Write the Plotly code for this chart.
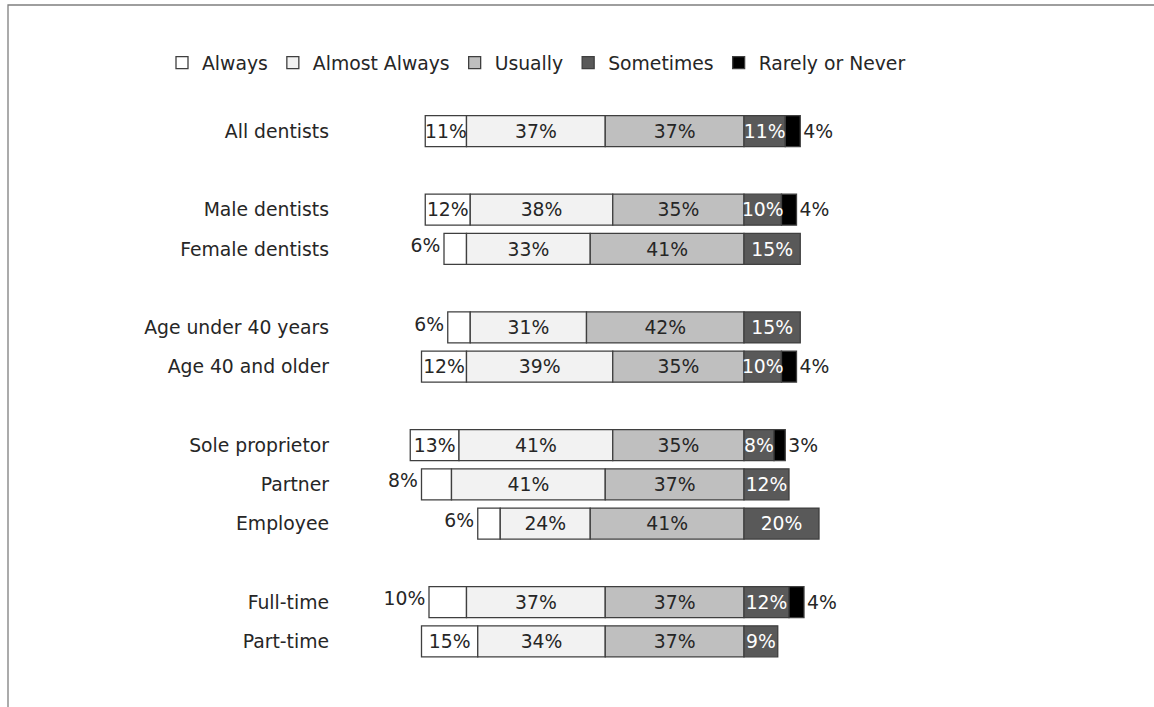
import plotly.graph_objects as go

# ---------------- data ----------------
categories = ["All dentists", "Male dentists", "Female dentists",
              "Age under 40 years", "Age 40 and older",
              "Sole proprietor", "Partner", "Employee",
              "Full-time", "Part-time"]
group_sizes = [1, 2, 2, 3, 2]
series_names = ["Always", "Almost Always", "Usually", "Sometimes", "Rarely or Never"]
always    = [11, 12, 6, 6, 12, 13, 8, 6, 10, 15]
almost    = [37, 38, 33, 31, 39, 41, 41, 24, 37, 34]
usually   = [37, 35, 41, 42, 35, 35, 37, 41, 37, 37]
sometimes = [11, 10, 15, 15, 10, 8, 12, 20, 12, 9]
rarely    = [4, 4, 0, 0, 4, 3, 0, 0, 4, 0]

# ---------------- layout helpers ----------------
FIG_W, FIG_H = 1154, 707
PLOT_L, PLOT_T = 340, 95
PLOT_W, PLOT_H = FIG_W - PLOT_L, FIG_H - PLOT_T
FONT = "DejaVu Sans"
FS = 18.8
DARK = "#262626"
colors = ["#ffffff", "#f2f2f2", "#bfbfbf", "#595959", "#000000"]
outline = "#3f3f3f"
TXT_DY = 0.05  # small downward nudge of value labels (in row units)

def pxx(px):
    return (px - PLOT_L) / PLOT_W

def pxy(py):
    return (FIG_H - py) / PLOT_H

# row positions: groups separated by one empty slot
ypos = []
p = 0
for g in group_sizes:
    for _ in range(g):
        ypos.append(p)
        p += 1
    p += 1

n = len(categories)
base_always = [-(always[i] + almost[i] + usually[i]) for i in range(n)]
base_almost = [-(almost[i] + usually[i]) for i in range(n)]
base_usually = [-usually[i] for i in range(n)]
base_some = [0] * n
base_rare = [sometimes[i] for i in range(n)]

vals = [always, almost, usually, sometimes, rarely]
bases = [base_always, base_almost, base_usually, base_some, base_rare]

fig = go.Figure()
for k in range(5):
    xv = [v if v > 0 else None for v in vals[k]]
    fig.add_trace(go.Bar(
        name=series_names[k], orientation="h",
        y=ypos, x=xv, base=bases[k], width=0.79,
        marker=dict(color=colors[k], line=dict(color=outline, width=1.3)),
        hoverinfo="skip",
    ))

# labels
def add_text(xs, ys, texts, pos, color):
    fig.add_trace(go.Scatter(
        x=xs, y=ys, text=texts, mode="text", textposition=pos,
        textfont=dict(family=FONT, size=FS, color=color),
        showlegend=False, hoverinfo="skip", cliponaxis=False))

# Always: inside if wide enough, else outside left
ix, iy, it, ox, oy, ot = [], [], [], [], [], []
for i in range(n):
    if always[i] >= 11:
        ix.append(base_always[i] + always[i] / 2); iy.append(ypos[i] + TXT_DY); it.append(f"{always[i]}%")
    else:
        ox.append(base_always[i] - 1.0); oy.append(ypos[i] - 0.04); ot.append(f"{always[i]}%")
add_text(ix, iy, it, "middle center", DARK)
add_text(ox, oy, ot, "middle left", DARK)

for k, col in [(1, DARK), (2, DARK), (3, "#ffffff")]:
    add_text([bases[k][i] + vals[k][i] / 2 for i in range(n)], [y + TXT_DY for y in ypos],
             [f"{vals[k][i]}%" for i in range(n)], "middle center", col)

rx = [sometimes[i] + rarely[i] + 0.8 for i in range(n) if rarely[i] > 0]
ry = [ypos[i] + TXT_DY for i in range(n) if rarely[i] > 0]
rt = [f"{rarely[i]}%" for i in range(n) if rarely[i] > 0]
add_text(rx, ry, rt, "middle right", DARK)

# axes
ZERO_PX, PX_PER = 744, 3.75
xr = [-(ZERO_PX - PLOT_L) / PX_PER, (FIG_W - ZERO_PX) / PX_PER]
SLOT_PX, FIRST_PX = 39.24, 131.2
ytop = -(FIRST_PX - PLOT_T) / SLOT_PX
ybot = ytop + PLOT_H / SLOT_PX

fig.update_xaxes(range=xr, showgrid=False, zeroline=False, showticklabels=False,
                 showline=False, ticks="")
fig.update_yaxes(range=[ybot, ytop], tickvals=ypos, ticktext=categories,
                 showgrid=False, zeroline=False, showline=False, ticks="",
                 ticklabelstandoff=10,
                 tickfont=dict(family=FONT, size=FS, color=DARK))

# frame of the original chart area (top and left edges visible)
fig.add_shape(type="rect", xref="paper", yref="paper",
              x0=pxx(8), x1=pxx(1170), y0=pxy(5), y1=pxy(720),
              line=dict(color="#7f7f7f", width=1.3), fillcolor="rgba(0,0,0,0)")

fig.update_layout(
    width=FIG_W, height=FIG_H,
    margin=dict(l=PLOT_L, r=0, t=PLOT_T, b=0),
    barmode="overlay",
    plot_bgcolor="white", paper_bgcolor="white",
    font=dict(family=FONT, size=FS, color=DARK),
    showlegend=True,
    legend=dict(orientation="h", x=pxx(162), xanchor="left", y=pxy(63), yanchor="middle",
                font=dict(family=FONT, size=FS, color=DARK),
                itemwidth=30, traceorder="normal", bgcolor="rgba(0,0,0,0)"),
)

fig.write_html("out.html", config={"displayModeBar": False},
               post_script="document.body.style.margin='0';")
